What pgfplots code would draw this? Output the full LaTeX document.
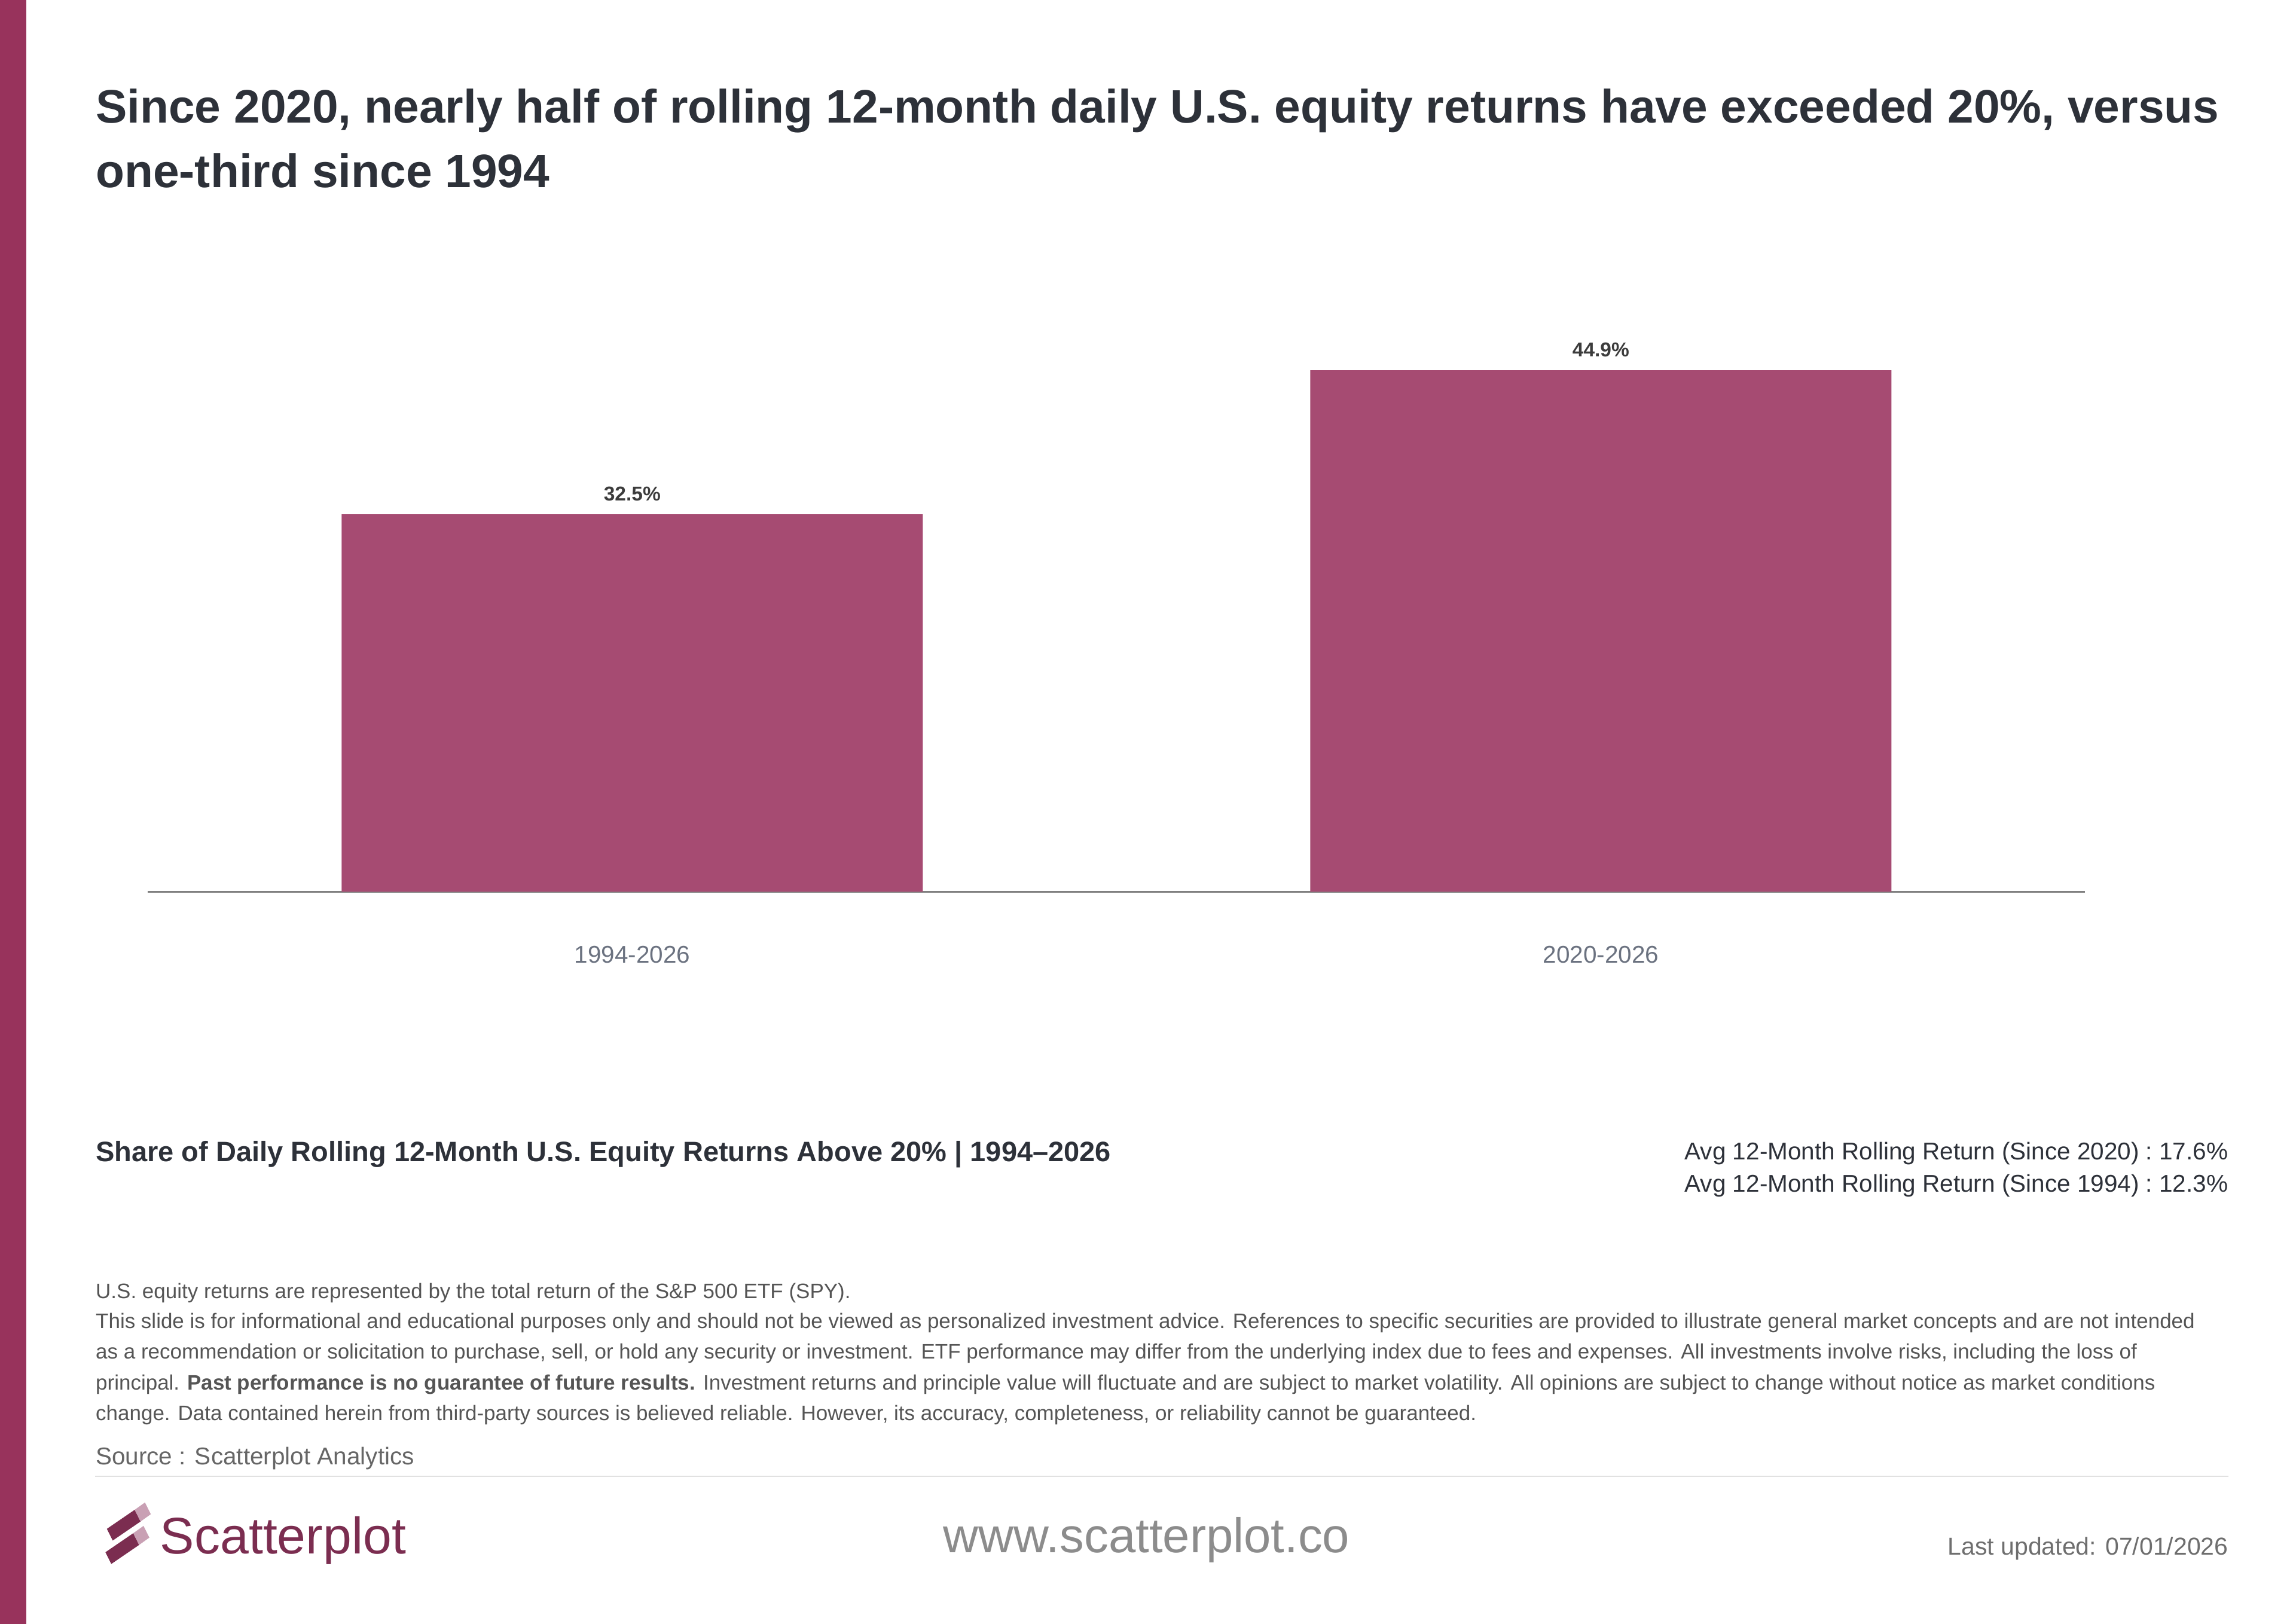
\documentclass[border=0pt]{standalone}
\usepackage{pgfplots}
\pgfplotsset{compat=1.18}
\usepackage{fontspec}
\setmainfont{Liberation Sans}
\definecolor{strip}{RGB}{152,51,92}
\definecolor{barc}{RGB}{166,75,114}
\definecolor{titlec}{RGB}{45,49,57}
\definecolor{tickc}{RGB}{107,114,128}
\definecolor{blab}{RGB}{60,60,60}
\definecolor{disc}{RGB}{85,85,85}
\definecolor{srcc}{RGB}{102,102,102}
\definecolor{wwwc}{RGB}{140,140,140}
\definecolor{updc}{RGB}{110,110,110}
\definecolor{logod}{RGB}{123,45,80}
\definecolor{logol}{RGB}{201,160,180}
\definecolor{sepc}{RGB}{225,225,225}
\begin{document}
\begin{tikzpicture}
\path[use as bounding box] (0,0) rectangle (768pt,-543.19pt);
\begin{scope}[x=0.4898pt,y=-0.4898pt]
\fill[strip] (0,0) rectangle (18,1109);
% title
\node[anchor=base west, inner sep=0, text=titlec, font=\fontsize{15.7}{18}\selectfont\bfseries] at (65,84) {Since 2020, nearly half of rolling 12-month daily U.S. equity returns have exceeded 20\%, versus};
\node[anchor=base west, inner sep=0, text=titlec, font=\fontsize{15.7}{18}\selectfont\bfseries] at (65,128) {one-third since 1994};
% subtitle and averages
\node[anchor=base west, inner sep=0, text=titlec, font=\fontsize{9.4}{11}\selectfont\bfseries] at (65,793) {Share of Daily Rolling 12-Month U.S. Equity Returns Above 20\% | 1994–2026};
\node[anchor=base east, inner sep=0, text=titlec, font=\fontsize{8.1}{9}\selectfont] at (1522,792) {Avg 12-Month Rolling Return (Since 2020) :\ 17.6\%};
\node[anchor=base east, inner sep=0, text=titlec, font=\fontsize{8.1}{9}\selectfont] at (1522,814) {Avg 12-Month Rolling Return (Since 1994) :\ 12.3\%};
% disclaimer
\begin{scope}[every node/.style={anchor=base west, inner sep=0, text=disc, font=\fontsize{7.0}{8}\selectfont}]
\node at (65,886.5) {U.S. equity returns are represented by the total return of the S\&P 500 ETF (SPY).};
\node at (65,907) {This slide is for informational and educational purposes only and should not be viewed as personalized investment advice. References to specific securities are provided to illustrate general market concepts and are not intended};
\node at (65,928) {as a recommendation or solicitation to purchase, sell, or hold any security or investment. ETF performance may differ from the underlying index due to fees and expenses. All investments involve risks, including the loss of};
\node at (65,949) {principal. \textbf{Past performance is no guarantee of future results.} Investment returns and principle value will fluctuate and are subject to market volatility. All opinions are subject to change without notice as market conditions};
\node at (65,970) {change. Data contained herein from third-party sources is believed reliable. However, its accuracy, completeness, or reliability cannot be guaranteed.};
\end{scope}
\node[anchor=base west, inner sep=0, text=srcc, font=\fontsize{8.1}{10}\selectfont] at (65,1000) {Source : Scatterplot Analytics};
\draw[sepc, line width=0.4pt] (65,1008) -- (1522,1008);
% logo
\fill[logod] (73,1044) -- (92,1031) -- (96,1039) -- (77,1052) -- cycle;
\fill[logol] (92,1031) -- (99,1026) -- (103,1034) -- (96,1039) -- cycle;
\fill[logod] (72,1060) -- (91,1047) -- (95,1055) -- (76,1068) -- cycle;
\fill[logol] (91,1047) -- (98,1042) -- (102,1050) -- (95,1055) -- cycle;
\node[anchor=base west, inner sep=0, text=logod, font=\fontsize{17.2}{20}\selectfont] at (109,1061) {Scatterplot};
\node[anchor=base, inner sep=0, text=wwwc, font=\fontsize{16.3}{19}\selectfont] at (783,1060) {www.scatterplot.co};
\node[anchor=base east, inner sep=0, text=updc, font=\fontsize{8.2}{10}\selectfont] at (1522,1062) {Last updated: 07/01/2026};
\end{scope}
\begin{axis}[
  at={(101*0.4898pt,-609*0.4898pt)}, anchor=south west,
  scale only axis, width=648.0pt, height=194.3pt,
  xmin=-0.5, xmax=1.5, ymin=0, ymax=50,
  axis x line=bottom, axis y line=none,
  x axis line style={-, draw=gray, line width=0.6pt},
  xtick={0,1}, xticklabels={1994-2026,2020-2026},
  major tick length=0pt, ytick=\empty,
  xticklabel style={anchor=center, yshift=-21pt, text=tickc, font=\fontsize{8.1}{10}\selectfont},
  /pgf/number format/assume math mode=true,
  clip=false,
]
\addplot[ybar, bar width=0.6, fill=barc, draw=none,
  nodes near coords={\pgfmathprintnumber[fixed,precision=1,fixed zerofill]{\pgfplotspointmeta}\%},
  every node near coord/.append style={anchor=center, yshift=6.9pt, text=blab, font=\fontsize{6.7}{8}\selectfont\bfseries},
] coordinates {(0,32.5) (1,44.9)};
\end{axis}
\end{tikzpicture}
\end{document}
